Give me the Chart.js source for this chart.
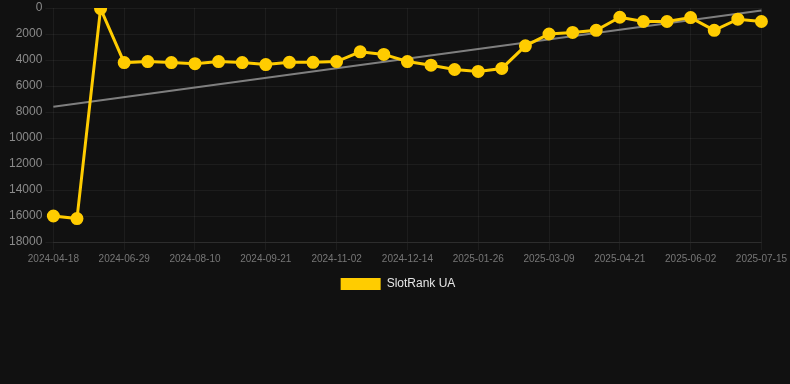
<!DOCTYPE html>
<html>
<head>
<meta charset="utf-8">
<script src="https://cdn.jsdelivr.net/npm/chart.js@4/dist/chart.umd.min.js"></script>
<style>
  html, body { margin: 0; padding: 0; background: #111111; }
  #wrap { position: relative; width: 790px; height: 300px; }
</style>
</head>
<body>
<div id="wrap"><canvas id="rankChart"></canvas></div>
<script>
// dates every ~2 weeks, only every 3rd one is shown on the axis
const dates = [
  '2024-04-18', '2024-05-30', '2024-06-15', '2024-06-29', '2024-07-13', '2024-07-27',
  '2024-08-10', '2024-08-24', '2024-09-07', '2024-09-21', '2024-10-05', '2024-10-19',
  '2024-11-02', '2024-11-16', '2024-11-30', '2024-12-14', '2024-12-28', '2025-01-11',
  '2025-01-26', '2025-02-09', '2025-02-23', '2025-03-09', '2025-03-23', '2025-04-06',
  '2025-04-21', '2025-05-05', '2025-05-19', '2025-06-02', '2025-06-16', '2025-06-30',
  '2025-07-15'
];

// SlotRank UA position (lower is better, axis reversed)
const rankUA = [
  16000, 16200, 50, 4200, 4120, 4200, 4280, 4120, 4200, 4350,
  4180, 4180, 4120, 3370, 3570, 4120, 4400, 4730, 4880, 4650,
  2910, 2000, 1880, 1720, 710, 1040, 1040, 740, 1720, 860,
  1040
];

// trend line end points
const trendStart = 7600;
const trendEnd = 200;

const yTicks = [0, 2000, 4000, 6000, 8000, 10000, 12000, 14000, 16000, 18000];

(function () {
  const trend = dates.map((d, i) => i === 0 ? trendStart : (i === dates.length - 1 ? trendEnd : null));
  const ctx = document.getElementById('rankChart').getContext('2d');

  new Chart(ctx, {
    type: 'line',
    data: {
      labels: dates,
      datasets: [{
        label: 'SlotRank UA',
        data: rankUA,
        borderColor: '#ffcc00',
        backgroundColor: '#ffcc00',
        borderWidth: 3,
        pointRadius: 5,
        pointHoverRadius: 5,
        pointBackgroundColor: '#ffcc00',
        pointBorderColor: '#ffcc00',
        tension: 0
      }, {
        label: 'trend',
        data: trend,
        spanGaps: true,
        borderColor: 'rgba(140,140,140,0.9)',
        borderWidth: 2,
        pointRadius: 0,
        fill: false
      }]
    },
    options: {
      responsive: true,
      maintainAspectRatio: false,
      animation: false,
      layout: { padding: { left: 6, right: 0, top: 0, bottom: 0 } },
      scales: {
        x: {
          grid: { color: 'rgba(255,255,255,0.05)' },
          border: { color: 'rgba(255,255,255,0.08)' },
          ticks: {
            color: '#777777',
            font: { size: 10 },
            maxRotation: 0,
            autoSkip: true,
            maxTicksLimit: 11
          }
        },
        y: {
          reverse: true,
          min: 0,
          max: 18000,
          afterBuildTicks: axis => { axis.ticks = yTicks.map(v => ({ value: v })); },
          afterFit: axis => { axis.paddingTop = 5; },
          grid: { color: 'rgba(255,255,255,0.05)' },
          border: { display: false },
          ticks: {
            color: '#8a8a8a',
            font: { size: 12 },
            callback: v => String(v)
          }
        }
      },
      plugins: {
        legend: {
          position: 'bottom',
          labels: {
            color: '#e6e6e6',
            font: { size: 12 },
            boxWidth: 40,
            filter: item => item.datasetIndex === 0,
            generateLabels: chart => Chart.defaults.plugins.legend.labels.generateLabels(chart)
              .map(item => Object.assign(item, { lineWidth: 0 }))
          }
        },
        tooltip: { enabled: false }
      }
    }
  });
})();
</script>
</body>
</html>
